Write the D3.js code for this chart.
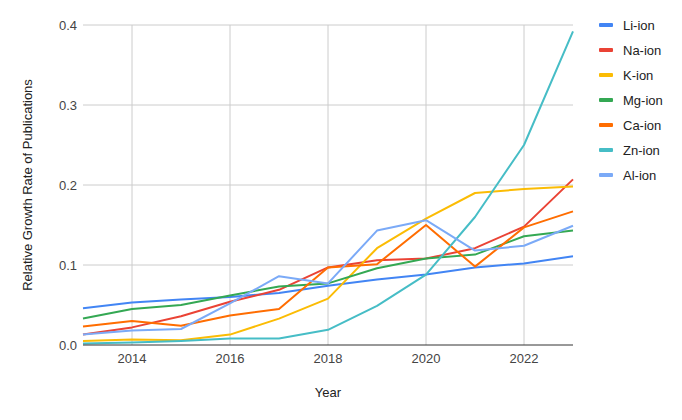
<!DOCTYPE html>
<html>
<head>
<meta charset="utf-8">
<script src="https://cdn.jsdelivr.net/npm/d3@7"></script>
<style>
  body { margin: 0; background: #fff; }
  text { font-family: Arial, "Liberation Sans", sans-serif; }
</style>
</head>
<body>
<script>
var years = [2013, 2014, 2015, 2016, 2017, 2018, 2019, 2020, 2021, 2022, 2023];
var seriesNames = ["Li-ion", "Na-ion", "K-ion", "Mg-ion", "Ca-ion", "Zn-ion", "Al-ion"];
var liIon = [0.046, 0.053, 0.057, 0.060, 0.065, 0.074, 0.082, 0.088, 0.097, 0.102, 0.111];
var naIon = [0.013, 0.022, 0.036, 0.054, 0.069, 0.097, 0.106, 0.108, 0.121, 0.148, 0.207];
var kIon = [0.005, 0.007, 0.006, 0.013, 0.033, 0.058, 0.121, 0.158, 0.190, 0.195, 0.198];
var mgIon = [0.033, 0.045, 0.050, 0.062, 0.073, 0.077, 0.096, 0.108, 0.113, 0.136, 0.143];
var caIon = [0.023, 0.030, 0.024, 0.037, 0.045, 0.097, 0.101, 0.150, 0.098, 0.147, 0.167];
var znIon = [0.002, 0.003, 0.005, 0.008, 0.008, 0.019, 0.049, 0.088, 0.160, 0.250, 0.392];
var alIon = [0.013, 0.018, 0.020, 0.052, 0.086, 0.077, 0.143, 0.156, 0.118, 0.124, 0.149];
var xTicks = [2014, 2016, 2018, 2020, 2022];
var yTicks = [0, 0.1, 0.2, 0.3, 0.4];
var colors = ["#4285F4", "#EA4335", "#FBBC04", "#34A853", "#FF6D01", "#46BDC6", "#7BAAF7"];

var allSeries = [liIon, naIon, kIon, mgIon, caIon, znIon, alIon];

var width = 682, height = 420;
var plotLeft = 83, plotRight = 573, plotTop = 25, plotBottom = 345;

var svg = d3.select("body").append("svg")
    .attr("width", width)
    .attr("height", height);

var x = d3.scaleLinear().domain([2013, 2023]).range([plotLeft, plotRight]);
var y = d3.scaleLinear().domain([0, 0.4]).range([plotBottom, plotTop]);

// gridlines
svg.append("g").selectAll("line")
    .data(yTicks.filter(function(d) { return d > 0; }))
    .enter().append("line")
    .attr("x1", plotLeft).attr("x2", plotRight)
    .attr("y1", function(d) { return y(d); })
    .attr("y2", function(d) { return y(d); })
    .attr("stroke", "#cccccc").attr("stroke-width", 1);

svg.append("g").selectAll("line")
    .data(xTicks)
    .enter().append("line")
    .attr("x1", function(d) { return x(d); })
    .attr("x2", function(d) { return x(d); })
    .attr("y1", plotTop).attr("y2", plotBottom)
    .attr("stroke", "#cccccc").attr("stroke-width", 1);

// tick labels
svg.append("g").selectAll("text")
    .data(yTicks)
    .enter().append("text")
    .attr("x", plotLeft - 6)
    .attr("y", function(d) { return y(d) + 4.5; })
    .attr("text-anchor", "end")
    .attr("font-size", 13)
    .attr("fill", "#444")
    .text(function(d) { return d3.format(".1f")(d); });

svg.append("g").selectAll("text")
    .data(xTicks)
    .enter().append("text")
    .attr("x", function(d) { return x(d); })
    .attr("y", plotBottom + 18)
    .attr("text-anchor", "middle")
    .attr("font-size", 13)
    .attr("fill", "#444")
    .text(function(d) { return d; });

// lines
var line = d3.line()
    .x(function(d, i) { return x(years[i]); })
    .y(function(d) { return y(d); });

for (var i = 0; i < allSeries.length; i++) {
    svg.append("path")
        .attr("d", line(allSeries[i]))
        .attr("fill", "none")
        .attr("stroke", colors[i])
        .attr("stroke-width", 2)
        .attr("stroke-linejoin", "round");
}

// baseline
svg.append("line")
    .attr("x1", plotLeft).attr("x2", plotRight)
    .attr("y1", y(0)).attr("y2", y(0))
    .attr("stroke", "#333").attr("stroke-width", 1);

// axis titles
svg.append("text")
    .attr("x", (plotLeft + plotRight) / 2)
    .attr("y", 397)
    .attr("text-anchor", "middle")
    .attr("font-size", 13)
    .attr("fill", "#222")
    .text("Year");

svg.append("text")
    .attr("transform", "translate(32," + ((plotTop + plotBottom) / 2) + ") rotate(-90)")
    .attr("text-anchor", "middle")
    .attr("font-size", 13)
    .attr("fill", "#222")
    .text("Relative Growth Rate of Publications");

// legend
var legend = svg.append("g");
for (var i = 0; i < seriesNames.length; i++) {
    var ly = 25 + i * 25;
    legend.append("rect")
        .attr("x", 599).attr("y", ly - 2)
        .attr("width", 14).attr("height", 4)
        .attr("rx", 1)
        .attr("fill", colors[i]);
    legend.append("text")
        .attr("x", 623).attr("y", ly + 4.5)
        .attr("font-size", 13)
        .attr("fill", "#222")
        .text(seriesNames[i]);
}
</script>
</body>
</html>
